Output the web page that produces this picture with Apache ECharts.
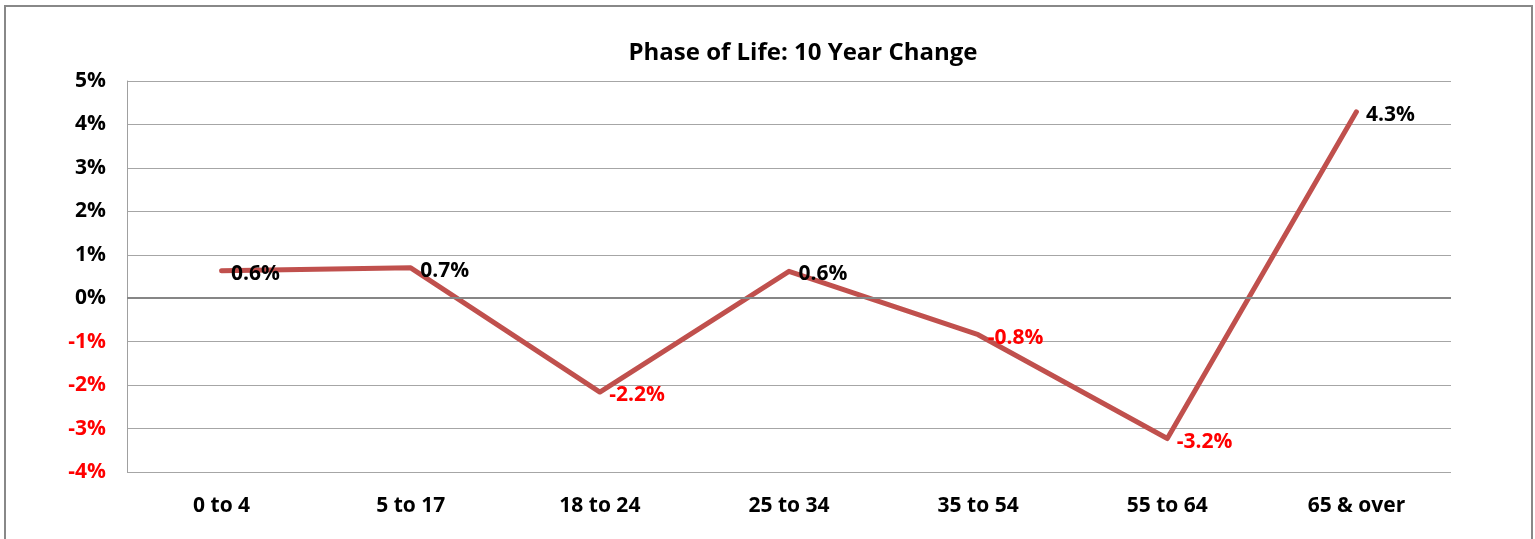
<!DOCTYPE html>
<html>
<head>
<meta charset="utf-8">
<script src="https://cdn.jsdelivr.net/npm/echarts@6/dist/echarts.min.js"></script>
<style>
  html, body { margin: 0; padding: 0; background: #fff; }
  #chart { width: 1535px; height: 539px; }
</style>
</head>
<body>
<div id="chart"></div>
<script>
// chart data
var titleText = 'Phase of Life: 10 Year Change';
var categories = ['0 to 4', '5 to 17', '18 to 24', '25 to 34', '35 to 54', '55 to 64', '65 & over'];
var changePct = [0.63, 0.7, -2.16, 0.62, -0.84, -3.23, 4.29];
var yTicks = { min: -4, max: 5, step: 1 };

var font = '"Open Sans", Lato, sans-serif';
var myChart = echarts.init(document.getElementById('chart'));

var option = {
  animation: false,
  title: {
    text: titleText,
    left: 798,
    textAlign: 'center',
    top: 36,
    textStyle: { fontFamily: font, fontWeight: 'bold', fontSize: 24, color: '#000' }
  },
  graphic: [{
    type: 'rect',
    shape: { x: 5, y: 6, width: 1527, height: 560 },
    style: { fill: 'none', stroke: '#888', lineWidth: 2 },
    silent: true
  }],
  grid: { left: 127, right: 84, top: 81, bottom: 67 },
  xAxis: {
    type: 'category',
    data: categories,
    boundaryGap: true,
    axisLine: { show: false },
    axisTick: { show: false },
    axisLabel: {
      margin: 24,
      fontFamily: font, fontWeight: 'bold', fontSize: 21, color: '#000'
    }
  },
  yAxis: {
    type: 'value',
    min: yTicks.min,
    max: yTicks.max,
    interval: yTicks.step,
    axisLine: { show: true, lineStyle: { color: '#a0a0a0', width: 1 } },
    axisTick: { show: false },
    splitLine: { lineStyle: { color: '#a6a6a6', width: 1 } },
    axisLabel: {
      margin: 21,
      fontFamily: font, fontWeight: 'bold', fontSize: 21,
      formatter: function (v) { return v + '%'; },
      color: function (v) { return Number(v) < 0 ? '#ff0000' : '#000'; }
    }
  },
  series: [{
    type: 'line',
    data: changePct.map(function (v) {
      return { value: v, label: { color: v < 0 ? '#ff0000' : '#000' } };
    }),
    symbol: 'circle',
    symbolSize: 1,
    itemStyle: { color: '#c0504d' },
    lineStyle: { color: '#c0504d', width: 5, cap: 'round', join: 'round' },
    label: {
      show: true,
      position: 'right',
      distance: 9,
      offset: [0, 3],
      fontFamily: font, fontWeight: 'bold', fontSize: 21,
      formatter: function (p) { return p.value.toFixed(1) + '%'; }
    },
    markLine: {
      silent: true,
      symbol: 'none',
      label: { show: false },
      lineStyle: { color: '#868686', width: 2, type: 'solid' },
      data: [{ yAxis: 0 }]
    }
  }]
};

myChart.setOption(option);
</script>
</body>
</html>
